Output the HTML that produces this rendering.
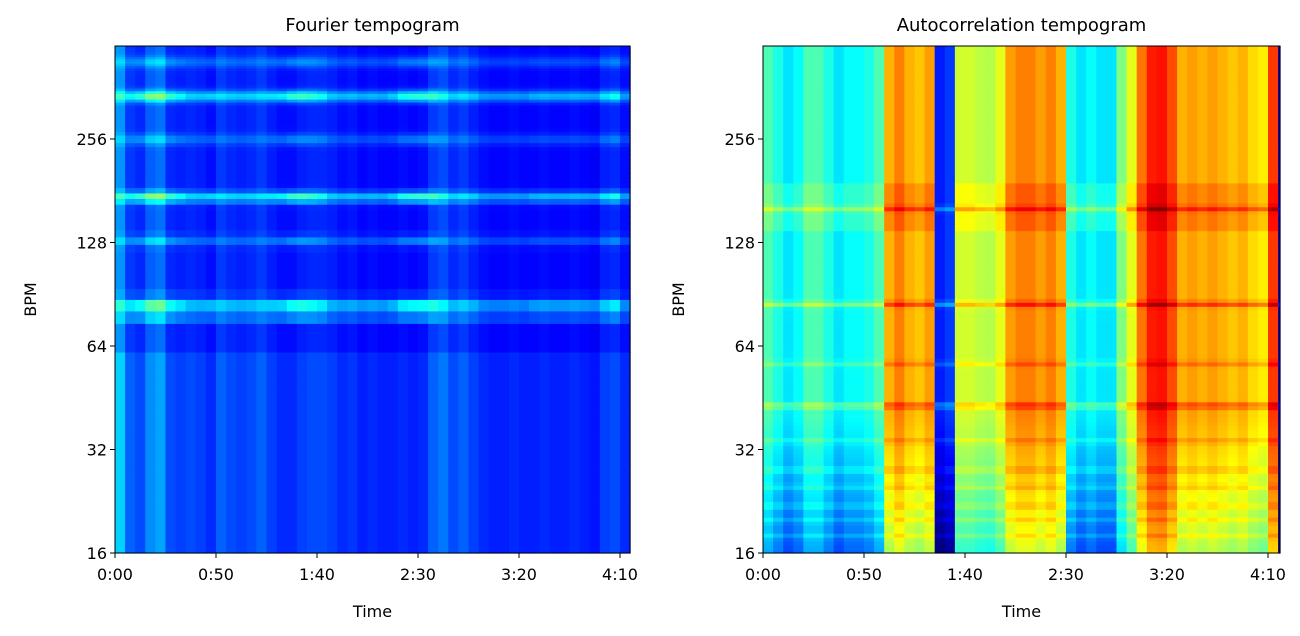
<!DOCTYPE html>
<html><head><meta charset="utf-8">
<style>
body{margin:0;background:#fff;font-family:"Liberation Sans","DejaVu Sans",sans-serif;}
svg text{font-family:"DejaVu Sans","Liberation Sans",sans-serif;fill:#000;}
</style></head>
<body>
<svg id="chart" width="1300" height="631" viewBox="0 0 1300 631" xmlns="http://www.w3.org/2000/svg">
<rect width="1300" height="631" fill="#fff"/>
<g id="p1"></g>
<g id="p2"></g>
</svg>
<script>
// ---- data ----
const timeSteps = [0,5,10,15,20,25,30,35,40,45,50,55,60,65,70,75,80,85,90,95,100,105,110,115,120,125,130,135,140,145,150,155,160,165,170,175,180,185,190,195,200,205,210,215,220,225,230,235,240,245,250,255];
const acColumns = [0.45,0.4,0.35,0.38,0.45,0.45,0.4,0.35,0.38,0.38,0.4,0.45,0.7,0.75,0.7,0.68,0.72,0.15,0.18,0.58,0.58,0.56,0.55,0.6,0.72,0.75,0.75,0.72,0.75,0.7,0.4,0.35,0.38,0.35,0.35,0.5,0.6,0.76,0.85,0.86,0.8,0.7,0.72,0.7,0.72,0.7,0.68,0.7,0.66,0.64,0.82,0.05];
const acLineBpm = [161,85,57,43,34,28,25,22,20,18];
const acLineStrength = [0.1,0.12,0.06,0.12,0.05,0.06,0.05,0.06,0.05,0.05];
const ftBase = [0.3,0.2,0.18,0.24,0.26,0.18,0.17,0.18,0.17,0.15,0.2,0.18,0.17,0.18,0.2,0.17,0.15,0.15,0.17,0.18,0.18,0.17,0.15,0.16,0.14,0.15,0.14,0.14,0.15,0.14,0.15,0.2,0.22,0.18,0.2,0.17,0.15,0.14,0.14,0.15,0.14,0.14,0.15,0.14,0.14,0.15,0.14,0.13,0.17,0.18,0.15,0.1];
const ftActivity = [0.6,0.7,0.9,1,1,0.9,0.8,0.6,0.6,0.7,0.6,0.6,0.6,0.6,0.6,0.7,0.8,1,1,0.9,0.8,0.6,0.6,0.6,0.6,0.6,0.6,0.7,0.9,1,1,0.9,0.7,0.6,0.6,0.6,0.5,0.5,0.5,0.5,0.5,0.6,0.6,0.6,0.6,0.6,0.6,0.6,0.7,0.8,0.5,0.2];
const ftLineBpm = [86,80,130,174,256,342,430];
const ftLineStrength = [0.3,0.22,0.12,0.3,0.12,0.3,0.12];
const yTicks = [16,32,64,128,256];
const xTickSecs = [0,50,100,150,200,250];
const xTickLabels = ["0:00","0:50","1:40","2:30","3:20","4:10"];

function jet(v){v=Math.max(0,Math.min(1,v));const c=x=>Math.round(255*Math.max(0,Math.min(1,1.5-Math.abs(x))));
 return `rgb(${c(4*v-3)},${c(4*v-2)},${c(4*v-1)})`;}
const NS="http://www.w3.org/2000/svg";
function mk(parent,tag,attrs){const e=document.createElementNS(NS,tag);for(const k in attrs)e.setAttribute(k,attrs[k]);parent.appendChild(e);return e;}
const Y0=553, YT=46, OCT=103.5;
function yScale(b){return Y0-Math.log2(b/16)*OCT;}
function makeX(x0){return t=>x0+t/50*101;}

function panel(g,x0,x1,title,valueFn,rowEdges){
  const xs=makeX(x0);
  for(let i=0;i<timeSteps.length;i++){
    const xa=xs(timeSteps[i]), xb=Math.min(x1, i+1<timeSteps.length?xs(timeSteps[i+1]):x1);
    for(let r=0;r<rowEdges.length-1;r++){
      const ya=Math.max(YT,yScale(rowEdges[r+1])), yb=Math.min(Y0,yScale(rowEdges[r]));
      if(yb<=ya) continue;
      const bpm=Math.sqrt(rowEdges[r]*rowEdges[r+1]);
      const cell=mk(g,'rect',{x:xa.toFixed(2),y:ya.toFixed(2),width:(xb-xa+0.6).toFixed(2),height:(yb-ya+0.6).toFixed(2),fill:jet(valueFn(i,bpm))});
      
      
    }
  }
  const frame=mk(g,'rect',{x:x0,y:YT,width:x1-x0,height:Y0-YT,fill:'none',stroke:'#000','stroke-width':1});
  
  
  const tt=mk(g,'text',{x:(x0+x1)/2,y:31,'text-anchor':'middle','font-size':18});
  tt.textContent=title;
  
  
  yTicks.forEach(b=>{const y=yScale(b);
    mk(g,'line',{x1:x0-5,x2:x0,y1:y,y2:y,stroke:'#000'});
    const t=mk(g,'text',{x:x0-8,y:y+6,'text-anchor':'end','font-size':16});t.textContent=b;
    
    });
  xTickSecs.forEach((s,i)=>{const x=xs(s);
    mk(g,'line',{x1:x,x2:x,y1:Y0,y2:Y0+5,stroke:'#000'});
    const t=mk(g,'text',{x:x,y:Y0+27,'text-anchor':'middle','font-size':16});t.textContent=xTickLabels[i];
    
    });
  const xl=mk(g,'text',{x:(x0+x1)/2,y:617,'text-anchor':'middle','font-size':16});xl.textContent='Time';
  
  
  const yl=mk(g,'text',{x:0,y:0,'text-anchor':'middle','font-size':16,transform:`translate(${x0-79},${(YT+Y0)/2}) rotate(-90)`});yl.textContent='BPM';
  
  
}
// Fourier: linear bins
const ftEdges=[];for(let b=16;b<=490;b+=6.5)ftEdges.push(b);
panel(document.getElementById('p1'),115,630,'Fourier tempogram',(i,bpm)=>{
  let v=ftBase[i]*(bpm<60?1.1:0.9);
  ftLineBpm.forEach((lb,k)=>{const d=Math.log2(bpm/lb)*OCT; v+=ftLineStrength[k]*ftActivity[i]*Math.exp(-d*d/30);});
  return v;},ftEdges);
// Autocorrelation: log bins
const acEdges=[];for(let k=0;k<=130;k++)acEdges.push(16*Math.pow(2,k*5/130));
panel(document.getElementById('p2'),763,1280,'Autocorrelation tempogram',(i,bpm)=>{
  let v=acColumns[i];
  if(bpm<40) v-=0.12*Math.log2(40/bpm);
  acLineBpm.forEach((lb,k)=>{const d=Math.log2(bpm/lb)*OCT; v+=acLineStrength[k]*Math.exp(-d*d/8);});
  if(bpm>140&&bpm<190&&acColumns[i]>0.3) v+=0.04;
  return v;},acEdges);
</script>
</body></html>
